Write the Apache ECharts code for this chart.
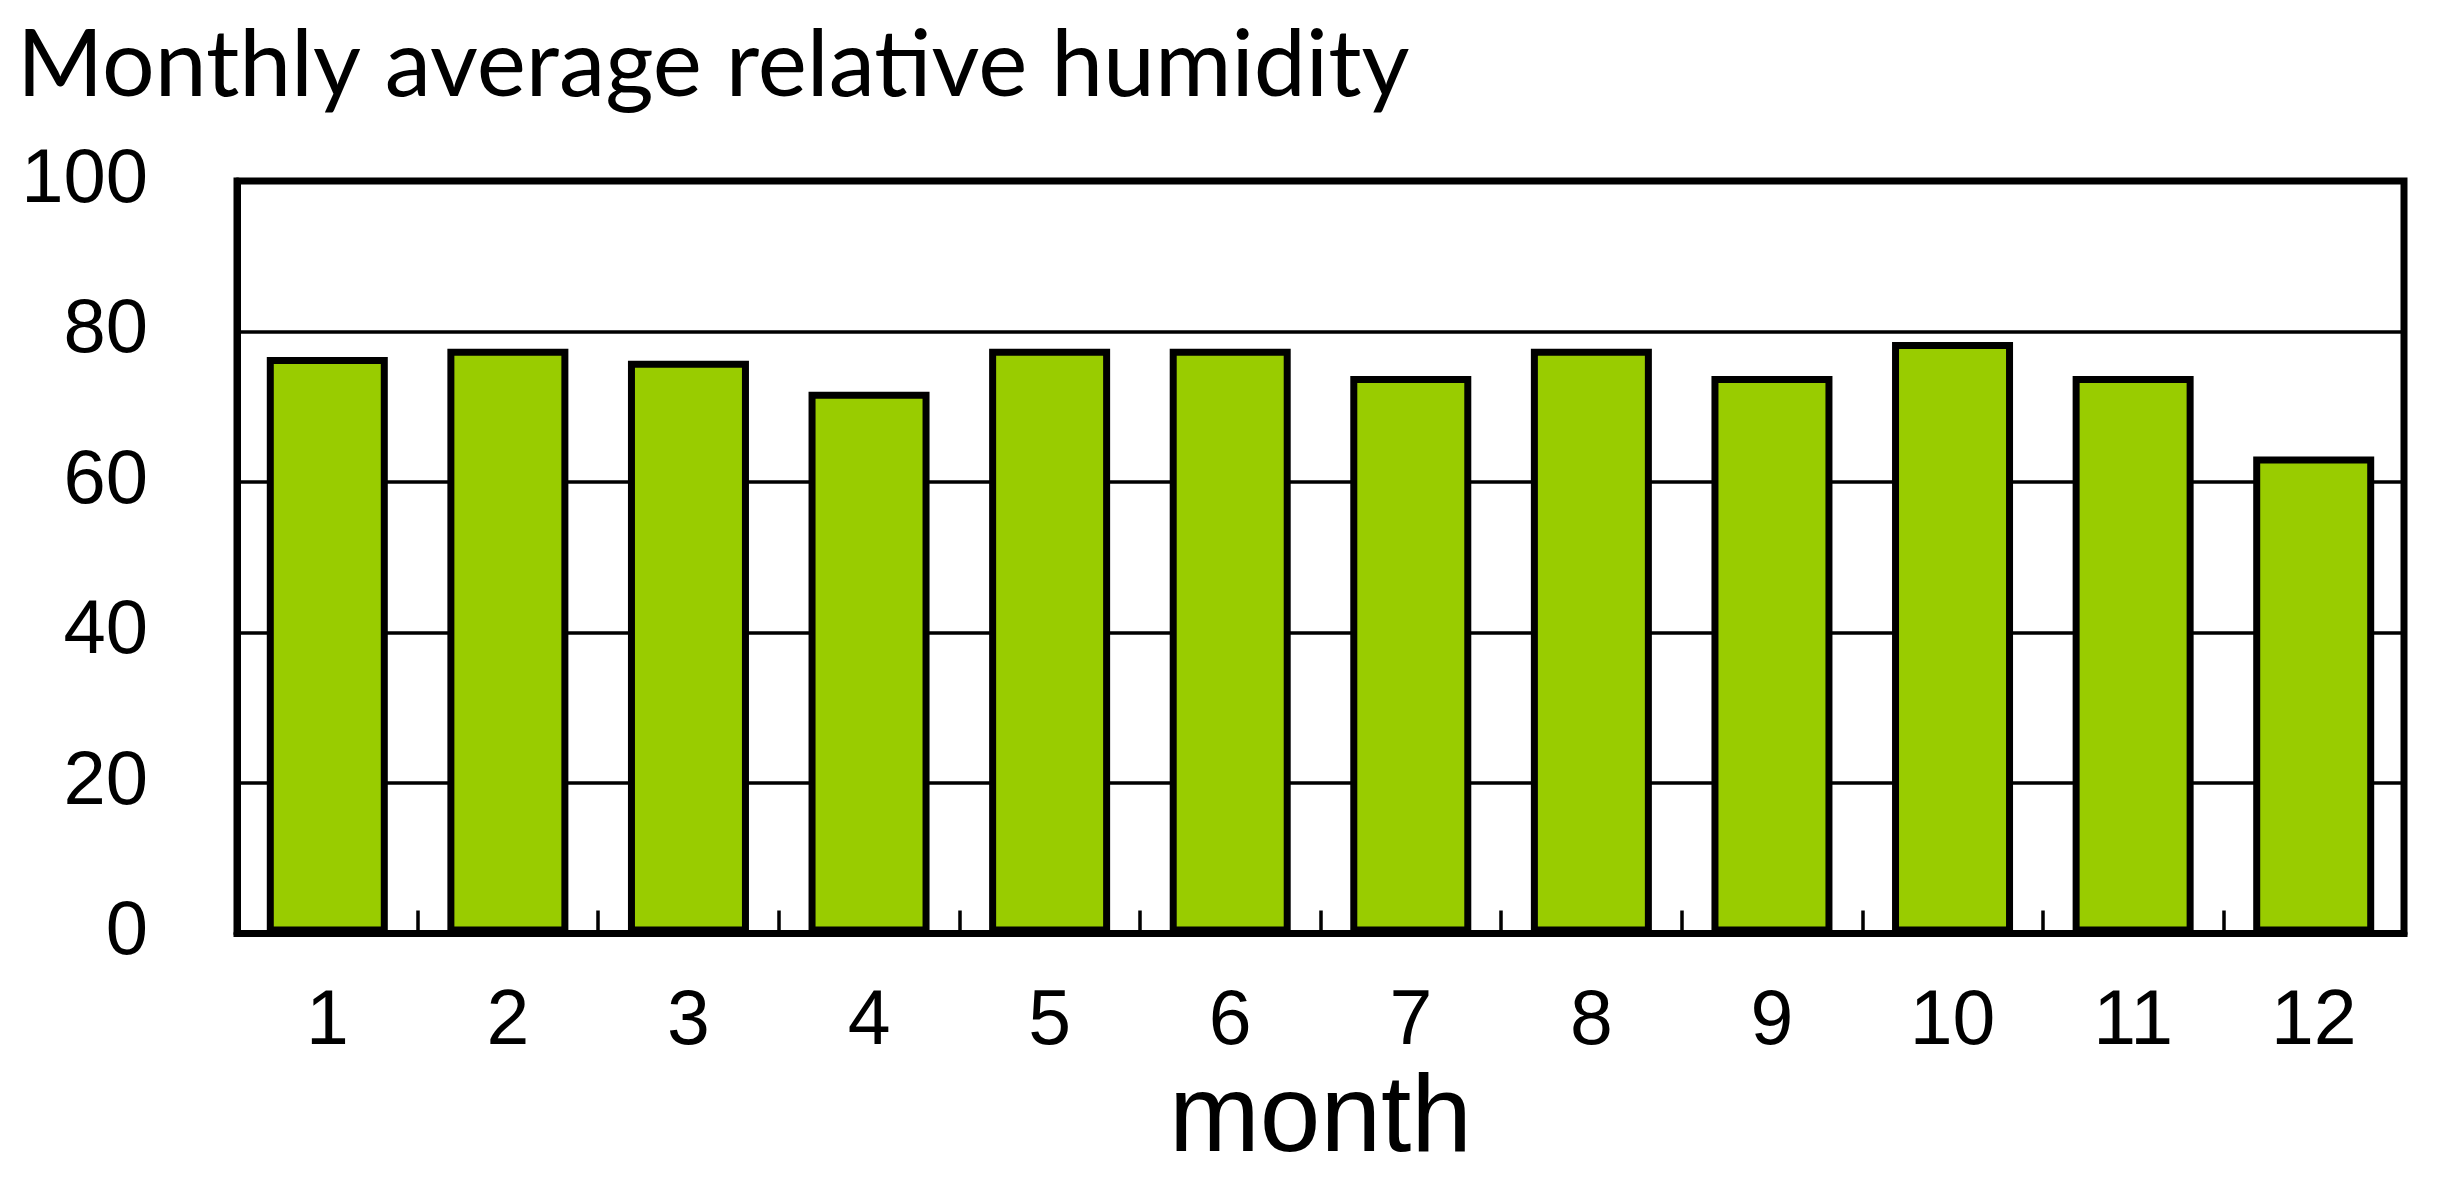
<!DOCTYPE html>
<html>
<head>
<meta charset="utf-8">
<script src="https://cdn.jsdelivr.net/npm/echarts@6/dist/echarts.min.js"></script>
<style>
html,body{margin:0;padding:0;background:#fff;}
#chart{width:2462px;height:1193px;}
</style>
</head>
<body>
<div id="chart"></div>
<script>
const months = ['1','2','3','4','5','6','7','8','9','10','11','12'];
const humidity = [76.6, 77.7, 76.1, 72.0, 77.7, 77.7, 74.1, 77.7, 74.1, 78.6, 74.1, 63.4];
const yTicks = {min: 0, max: 100, interval: 20};
const titleText = 'Monthly average relative humidity';
const xName = 'month';

const chart = echarts.init(document.getElementById('chart'), null, {renderer: 'canvas'});
chart.setOption({
  animation: false,
  backgroundColor: '#ffffff',
  title: {
    text: titleText,
    left: 12,
    top: 14,
    textStyle: {fontFamily: 'Lato', fontWeight: 'normal', fontSize: 93, color: '#000'}
  },
  grid: {
    left: 237, right: 58, top: 181, bottom: 259.5,
    show: true, borderColor: '#000', borderWidth: 7, backgroundColor: 'transparent'
  },
  xAxis: {
    type: 'category',
    data: months,
    boundaryGap: true,
    name: xName,
    nameLocation: 'middle',
    nameGap: 129,
    nameTextStyle: {fontFamily: 'Liberation Sans', fontSize: 109, color: '#000'},
    axisLine: {show: true, lineStyle: {color: '#000', width: 7}},
    axisTick: {show: true, inside: true, length: 23, lineStyle: {color: '#000', width: 3.5}},
    axisLabel: {margin: 51, fontFamily: 'Liberation Sans', fontSize: 77, color: '#000'},
    splitLine: {show: false}
  },
  yAxis: {
    type: 'value',
    min: yTicks.min, max: yTicks.max, interval: yTicks.interval,
    axisLine: {show: true, lineStyle: {color: '#000', width: 7}},
    axisTick: {show: false},
    axisLabel: {margin: 89, fontFamily: 'Liberation Sans', fontSize: 76, color: '#000', padding: [0, 0, 8, 0]},
    splitLine: {show: true, lineStyle: {color: '#000', width: 3.5}}
  },
  series: [{
    type: 'bar',
    data: humidity,
    barWidth: 121,
    itemStyle: {color: '#99CC00', borderColor: '#000', borderWidth: 7}
  }]
});
</script>
</body>
</html>
